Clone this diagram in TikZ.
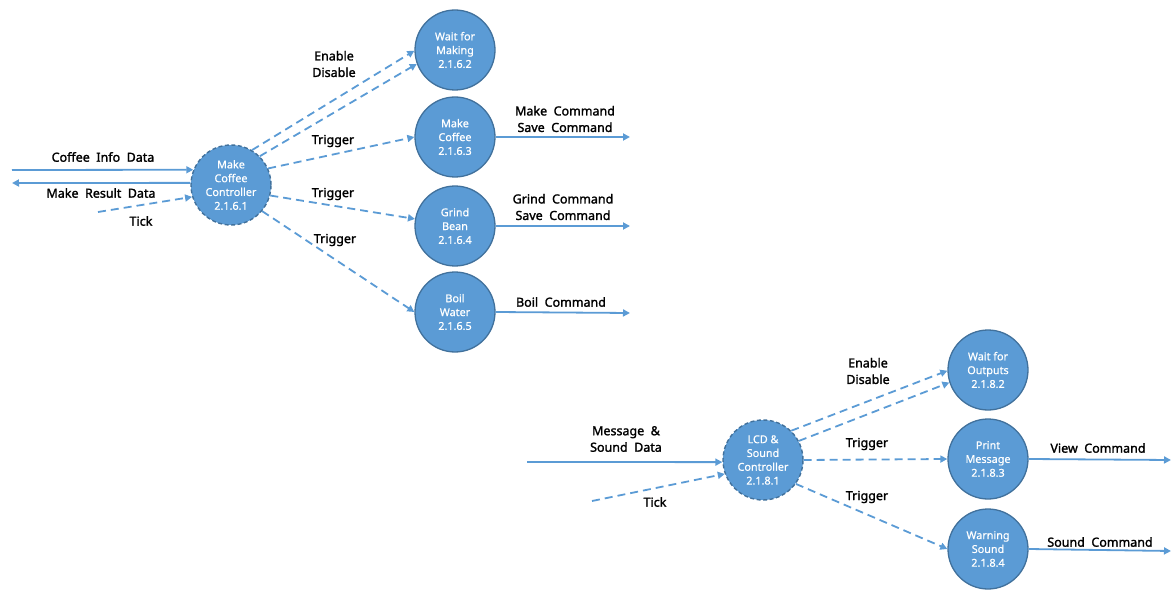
\documentclass[tikz,border=0pt]{standalone}
\usepackage{fontspec}
\setmainfont{Noto Sans}
\newfontfamily\lblfont[FakeBold=1.6]{Noto Sans}
\newfontfamily\nodefont[FakeBold=0.6]{Noto Sans}
\usetikzlibrary{arrows.meta}
\definecolor{procfill}{HTML}{5B9BD5}
\definecolor{procedge}{HTML}{41719C}
\definecolor{flow}{HTML}{5B9BD5}
\begin{document}
\begin{tikzpicture}[x=1pt,y=-1pt,
  proc/.style={circle,fill=procfill,draw=procedge,line width=1.3pt,minimum size=80pt,inner sep=0pt,
    align=center,text=white,font=\nodefont\fontsize{10.8}{13.8}\selectfont},
  ctrl/.style={proc,dashed,dash pattern=on 4pt off 2.5pt,line width=1.4pt},
  dflow/.style={draw=flow,line width=1.8pt,-{Triangle[length=7pt,width=7pt]}},
  cflow/.style={dflow,dash pattern=on 8pt off 5pt},
  lbl/.style={align=center,font=\lblfont\fontsize{12.5}{16.5}\selectfont,text=black,inner sep=0pt}]
\useasboundingbox (0,0) rectangle (1171,591);
% top group
\node[ctrl] (c1) at (231,185) {Make\\Coffee\\Controller\\2.1.6.1};
\node[proc] (p2) at (455,50) {Wait for\\Making\\2.1.6.2};
\node[proc] (p3) at (455,137) {Make\\Coffee\\2.1.6.3};
\node[proc] (p4) at (455,226) {Grind\\Bean\\2.1.6.4};
\node[proc] (p5) at (455,312) {Boil\\Water\\2.1.6.5};
\coordinate (in1) at (12,170);
\coordinate (out1) at (12,183);
\coordinate (tick1) at (98,212);
\coordinate (o3) at (630,137);
\coordinate (o4) at (630,226);
\coordinate (o5) at (630,313);
\draw[dflow] (in1) -- (c1.158);
\draw[dflow] (c1.177) -- (out1);
\draw[cflow] (tick1) -- (c1.197);
\draw[cflow] (c1.59) -- (p2.181);
\draw[cflow] (c1.45) -- (p2.200);
\draw[cflow] (c1.24) -- (p3.180);
\draw[cflow] (c1.-15) -- (p4.170);
\draw[cflow] (c1.-40) -- (p5.180);
\draw[dflow] (p3.east) -- (o3);
\draw[dflow] (p4.east) -- (o4);
\draw[dflow] (p5.east) -- (o5);
\node[lbl] (l1) at (103,157) {Coffee\ \ Info\ \ Data};
\node[lbl] (l2) at (101,193) {Make\ \ Result\ \ Data};
\node[lbl] (l3) at (141,221) {Tick};
\node[lbl] (l4) at (334,64) {Enable\\Disable};
\node[lbl] (l5) at (333,141) {Trigger};
\node[lbl] (l6) at (333,194) {Trigger};
\node[lbl] (l7) at (335,240) {Trigger};
\node[lbl] (l8) at (565,119) {Make\ \ Command\\Save\ \ Command};
\node[lbl] (l9) at (563,207) {Grind\ \ Command\\Save\ \ Command};
\node[lbl] (l10) at (561,302) {Boil\ \ Command};
% bottom group
\node[ctrl] (c2) at (763,460) {LCD \&\\Sound\\Controller\\2.1.8.1};
\node[proc] (q2) at (988,370) {Wait for\\Outputs\\2.1.8.2};
\node[proc] (q3) at (988,459) {Print\\Message\\2.1.8.3};
\node[proc] (q4) at (988,549) {Warning\\Sound\\2.1.8.4};
\coordinate (in2) at (527,462);
\coordinate (tick2) at (592,501);
\coordinate (v3) at (1171,460);
\coordinate (v4) at (1171,551);
\draw[dflow] (in2) -- (c2.183);
\draw[cflow] (tick2) -- (c2.200);
\draw[cflow] (c2.46) -- (q2.181);
\draw[cflow] (c2.28) -- (q2.198);
\draw[cflow] (c2.0) -- (q3.180);
\draw[cflow] (c2.-36) -- (q4.180);
\draw[dflow] (q3.east) -- (v3);
\draw[dflow] (q4.east) -- (v4);
\node[lbl] (m1) at (626,439) {Message\ \ \&\\Sound\ \ Data};
\node[lbl] (m2) at (655,502) {Tick};
\node[lbl] (m3) at (868,371) {Enable\\Disable};
\node[lbl] (m4) at (867,444) {Trigger};
\node[lbl] (m5) at (867,497) {Trigger};
\node[lbl] (m6) at (1098,448) {View\ \ Command};
\node[lbl] (m7) at (1100,542) {Sound\ \ Command};
\end{tikzpicture}
\end{document}
